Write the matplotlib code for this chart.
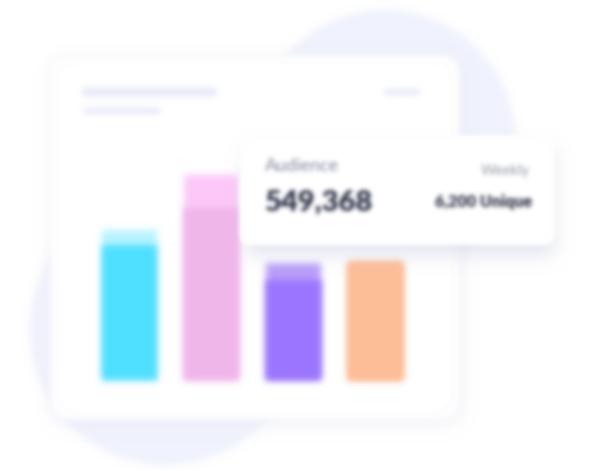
import numpy as np
import matplotlib
matplotlib.use("Agg")
import matplotlib.pyplot as plt
from matplotlib.patches import FancyBboxPatch, Circle

# datos de las barras (alto total y alto de la franja clara superior)
categorias = ["A", "B", "C", "D"]
valores = [150, 205, 117, 118]
franjas = [15, 33, 17, 0]
colores = ["#4FE0FF", "#F0B6EA", "#9B76FF", "#FDBE98"]
colores_franja = ["#B8F4FF", "#FCC8F8", "#B89EF9", "#FDBE98"]

# textos de la tarjeta
titulo = "Audience"
total = "549,368"
periodo = "Weekly"
unicos = "6,200 Unique"

W, H = 602, 471


def desenfoque(sigma):
	"""filtro gaussiano para agg_filter"""
	r = int(3*sigma)
	k = np.exp(-0.5*(np.arange(-r, r+1)/sigma)**2)
	k /= k.sum()

	def filtro(im, dpi):
		p = r + 2
		a = np.pad(im, ((p, p), (p, p), (0, 0)))
		a[..., :3] *= a[..., 3:4]
		for eje in (0, 1):
			b = np.zeros_like(a)
			for i, w in enumerate(k):
				b += w*np.roll(a, i - r, axis=eje)
			a = b
		al = a[..., 3:4]
		a[..., :3] = np.where(al > 1e-6, a[..., :3]/np.maximum(al, 1e-6), 0)
		return np.clip(a, 0, 1), -p, -p
	return filtro


fig = plt.figure(figsize=(W/100, H/100), dpi=100)
fig.patch.set_facecolor("white")

# fondo: manchas y tarjeta principal
fondo = fig.add_axes([0, 0, 1, 1], zorder=0)
fondo.set_xlim(0, W)
fondo.set_ylim(H, 0)
fondo.axis("off")

for (cx, cy, r) in [(385, 140, 130), (165, 330, 135)]:
	c = Circle((cx, cy), r, color="#F0F3FD", lw=0)
	c.set_agg_filter(desenfoque(4))
	fondo.add_patch(c)

sombra = FancyBboxPatch((52, 60), 410, 365, boxstyle="round,pad=0,rounding_size=20",
	fc="#E2E5F2", ec="none", alpha=0.4)
sombra.set_agg_filter(desenfoque(8))
fondo.add_patch(sombra)
tarjeta = FancyBboxPatch((50, 55), 410, 365, boxstyle="round,pad=0,rounding_size=20",
	fc="white", ec="#F5F6FA", lw=1)
tarjeta.set_agg_filter(desenfoque(3))
fondo.add_patch(tarjeta)

lineas = [(86, 213, 92, 6), (86, 158, 111, 4), (387, 418, 92, 4)]
for (x0, x1, y, g) in lineas:
	ln, = fondo.plot([x0, x1], [y, y], color="#E6E9F8", lw=g, solid_capstyle="round")
	ln.set_agg_filter(desenfoque(3))

# barras
ax = fig.add_axes([88.5/W, (H - 380)/H, 328/W, 220/H], zorder=1)
ax.set_xlim(-0.5, 3.5)
ax.set_ylim(0, 220)
ax.axis("off")
x = np.arange(len(categorias))
base = ax.bar(x, valores, width=0.66, color=colores_franja, lw=0)
cuerpo = ax.bar(x, np.array(valores) - np.array(franjas), width=0.66, color=colores, lw=0)
for b in list(base) + list(cuerpo):
	b.set_agg_filter(desenfoque(3.5))

# tarjeta superpuesta
top = fig.add_axes([0, 0, 1, 1], zorder=2)
top.set_xlim(0, W)
top.set_ylim(H, 0)
top.axis("off")
top.patch.set_alpha(0)

s2 = FancyBboxPatch((245, 148), 310, 108, boxstyle="round,pad=0,rounding_size=10",
	fc="#CDD1E0", ec="none", alpha=0.5)
s2.set_agg_filter(desenfoque(9))
top.add_patch(s2)
card = FancyBboxPatch((240, 135), 315, 110, boxstyle="round,pad=0,rounding_size=10",
	fc="white", ec="none")
card.set_agg_filter(desenfoque(2))
top.add_patch(card)

textos = [
	(265, 166, titulo, 13, "normal", "#85899A", "left"),
	(264, 202, total, 21, "heavy", "#30354A", "left"),
	(530, 171, periodo, 10.5, "normal", "#979BA8", "right"),
	(532, 202, unicos, 11.5, "heavy", "#30354A", "right"),
]
for (tx, ty, s, tam, peso, col, ha) in textos:
	t = top.text(tx, ty, s, fontsize=tam, fontweight=peso, color=col, ha=ha, va="center",
		family=["Lato", "DejaVu Sans"])
	t.set_agg_filter(desenfoque(2.2))

fig.savefig("out.png", dpi=100, facecolor="white")
